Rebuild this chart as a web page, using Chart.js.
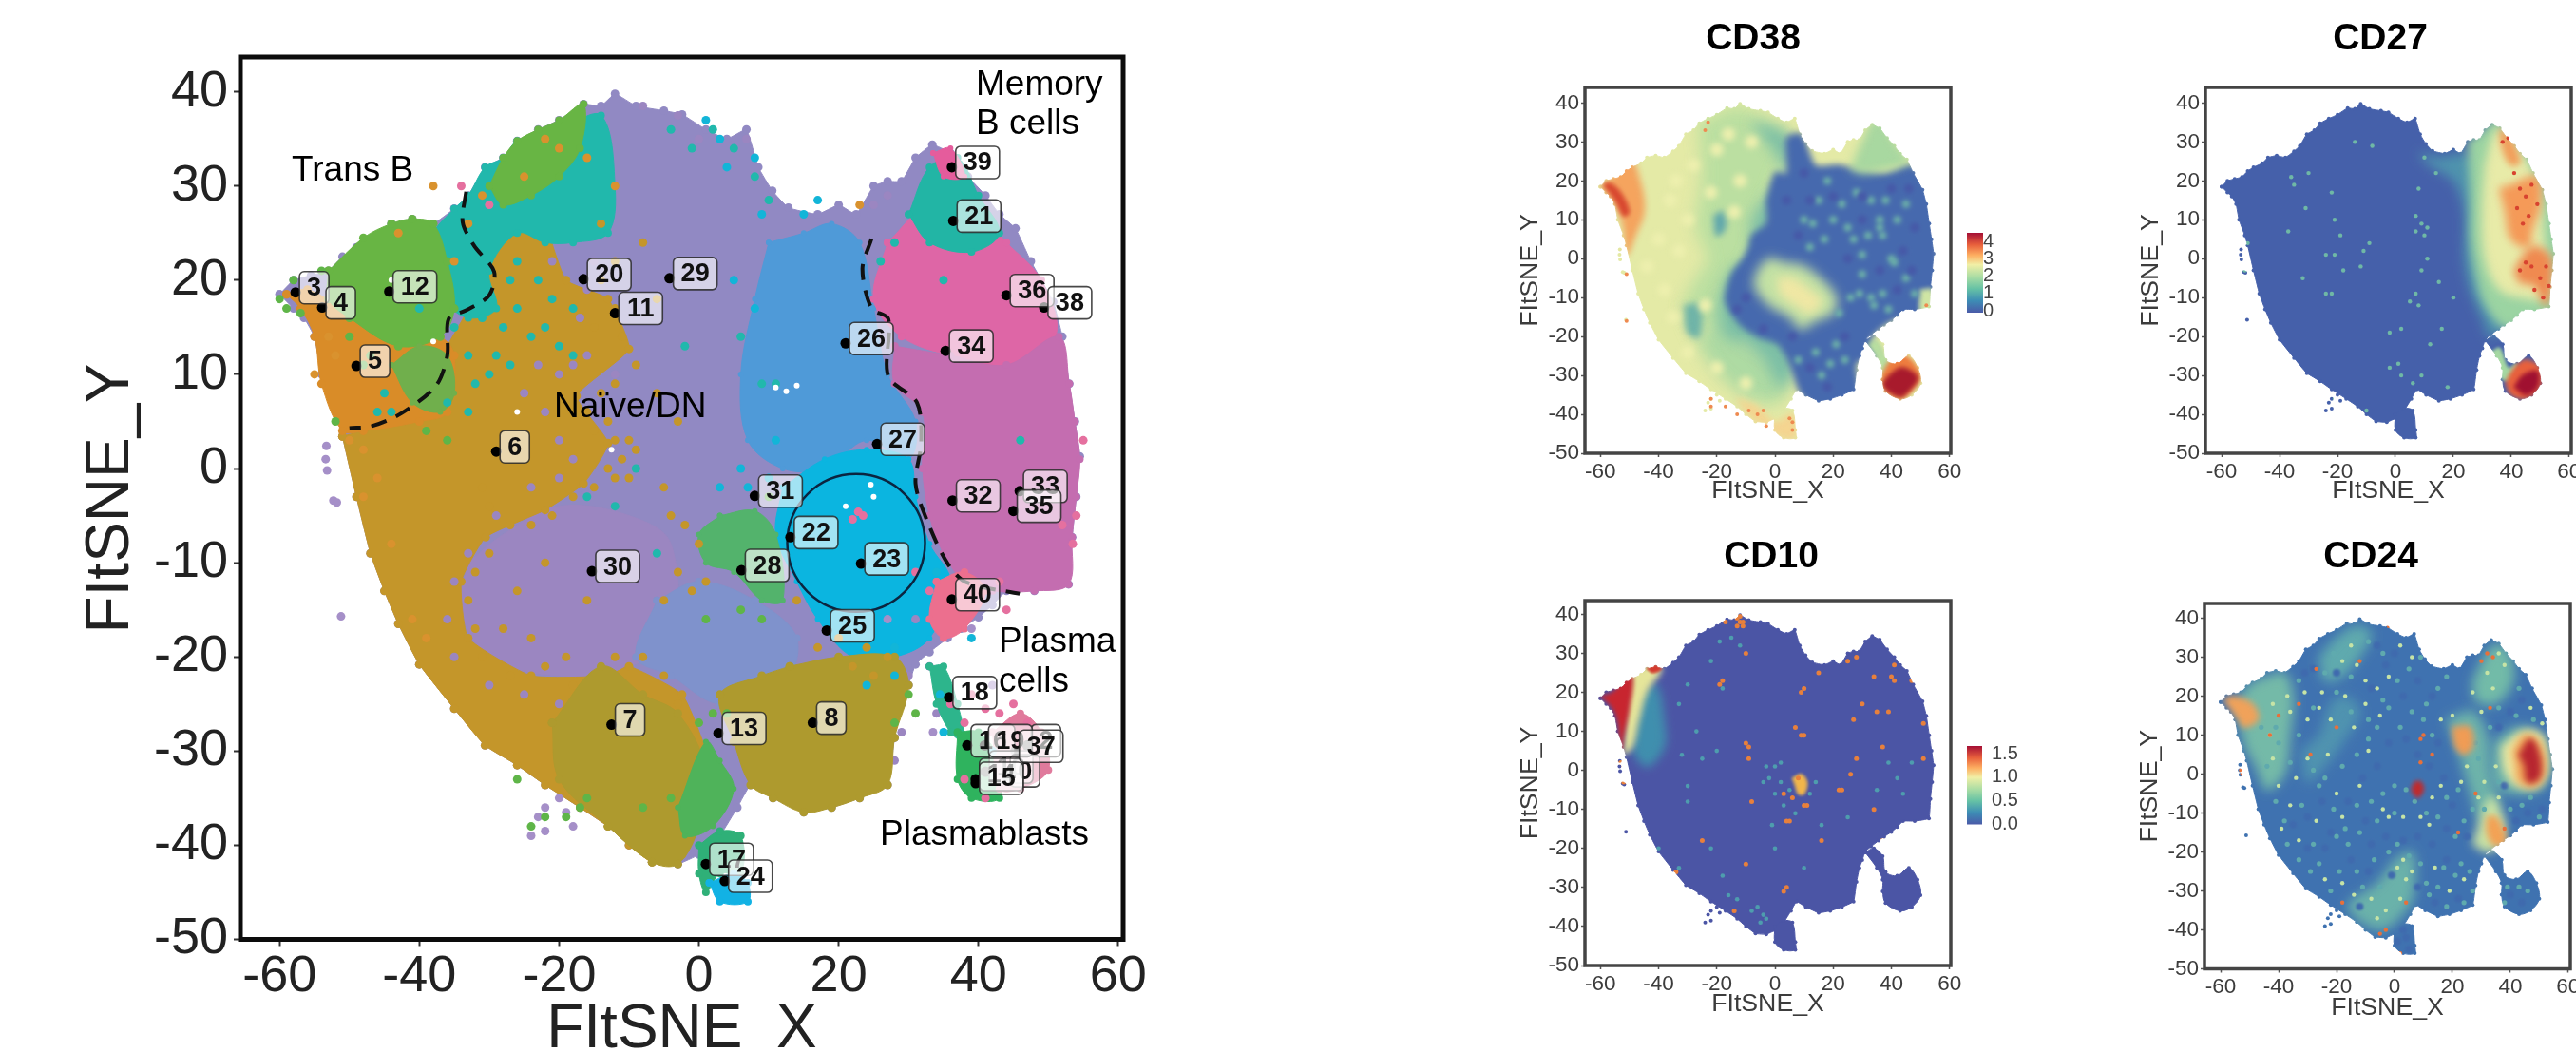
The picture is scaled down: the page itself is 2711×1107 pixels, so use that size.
<!DOCTYPE html>
<html><head><meta charset="utf-8">
<style>
html,body{margin:0;padding:0;background:#fff;width:2711px;height:1107px;overflow:hidden}
.w{position:absolute}
.w canvas{display:block}
.soft{filter:blur(.75px)}
</style>
<script src="https://cdn.jsdelivr.net/npm/chart.js@4"></script>
</head><body>
<script>
/* ---------- shared outline estimates, in FItSNE units ---------- */
const bodyOutline=[[-60,18.5],[-58,20],[-55.5,20.5],[-53,21],[-51,22.5],[-49,23.5],[-46,24.5],[-44,26],[-41,26.5],[-38,26],[-35,27.6],[-33,29],[-30.6,32],[-28,33],[-26,34.8],[-23,36],[-20,37],[-16.5,38.7],[-14,38.5],[-12,39.8],[-9,38.5],[-5,38],[-2.4,37.6],[1,36],[4,35],[6.8,36],[8.5,32],[10.5,29.5],[12.8,27.7],[17,27],[20,28],[22.5,27],[25,30],[27,30.5],[29,30.5],[31,33],[33.4,34.4],[36,33.5],[38.5,31],[41,29],[43,27],[45.3,25.5],[47.5,22],[50.7,17.7],[52,14],[53,9],[53.8,5],[54.5,1.3],[54,-3],[53.4,-7.3],[52.9,-12.3],[48,-13],[44,-13],[42,-14.5],[40,-15.8],[37.5,-17],[35.6,-18],[33,-19.5],[31,-20.8],[30,-23],[29,-25],[28,-28.6],[27,-33.6],[23,-35],[19,-36],[15,-36.5],[10.6,-35],[7.4,-33.6],[5.5,-36],[3,-39],[0,-41],[-3,-42],[-6.7,-41.8],[-10,-40],[-13,-38],[-17,-36],[-22,-33.6],[-26,-31.5],[-30.6,-29.4],[-35,-25.5],[-40,-20.8],[-43,-16.5],[-45,-13],[-47,-9],[-49,-3],[-51,3.4],[-52,6],[-54,10],[-55,14],[-56.5,16],[-58,17]];
const plasmaOutline=[[31,-21],[34,-20],[37,-22],[38,-26],[42,-27],[46,-25],[49,-28],[50,-32],[47,-35],[43,-36],[38,-34],[37,-31],[37,-28],[35,-25]];
const bottomOutline=[[0,-40],[3,-38.5],[6,-39],[7,-44],[7,-46],[3,-46],[0,-44]];
const leftCrumbs=[[-53.3,2.4],[-53.4,1],[-53.2,-.2],[-52.3,-3.4],[-51.8,-3.6],[-51.2,-15.7],[-23,-37],[-22,-36],[-20,-35],[-19,-36.5],[-22,-38.5],[-24,-39],[-18,-38],[33.5,-28],[39,-17],[42,-23],[27,-16]];

/* ---------- main panel: estimated cluster regions ---------- */
const goldRegion=[[-51,3.4],[-49,-3],[-47,-9],[-45,-13],[-43,-16.5],[-40,-20.8],[-35,-25.5],[-30.6,-29.4],[-26,-31.5],[-22,-33.6],[-17,-36],[-13,-38],[-10,-40],[-6.7,-41.8],[-2.4,-41],[1,-34],[1,-30],[-2.4,-24],[-10,-21],[-13,-22],[-24,-22],[-33,-18],[-34,-12],[-30.5,-7.3],[-22,-4.4],[-16.5,-1.6],[-13,2.7],[-17.5,7.7],[-10,12.7],[-13,18],[-19,20],[-22,26],[-24,28],[-31,24],[-33,17],[-36,13],[-40,6]];
const orangeRegion=[[-59,18.5],[-56,19],[-51,17],[-45,15],[-40,14],[-37,14],[-35,12],[-36,6],[-40,5],[-48,4],[-51,4],[-54,9],[-55,14],[-57,17]];
const greenTrans=[[-53,21],[-48,24.5],[-44,26],[-41,26.5],[-38,26],[-36,22],[-35,17],[-37,14],[-43,13],[-50,16],[-53,18]];
const greenLow=[[-44,11],[-40,13],[-36,12],[-35,8],[-37,6],[-41,7]];
const tealBelt=[[-40,20],[-38,25],[-35,27.6],[-33,29],[-30.6,32],[-28,33],[-26,34.8],[-20,36],[-14,37.5],[-12,30],[-13,25],[-18,24],[-22,24],[-26,25],[-30,21],[-29,17],[-33,16],[-37,18]];
const greenTuft=[[-30,30],[-28,33],[-26,34.8],[-23,36],[-20,37],[-16.5,38.7],[-17,34],[-20,31],[-24,29],[-28,28]];
const lowerLavender=[[-33,-10],[-28,-7],[-20,-4],[-10,-5],[-4,-8],[-4,-18],[-10,-21],[-20,-22],[-30,-20],[-34,-15]];
const blueLavender=[[-6,-14],[0,-12],[8,-14],[14,-18],[12,-23],[3,-25],[-4,-22],[-9,-20]];
const blueRegion=[[10,24],[15,25],[19,26],[23,24],[25,17],[27,10],[31,5],[30,1],[24,3],[18,0],[12,0],[7,3],[6,10],[8,18]];
const cyanRegion=[[12,-2],[18,1],[24,2],[30,1],[31,-3],[33,-8],[36,-12],[33,-18],[28,-20],[22,-20],[17,-16],[14,-12],[11,-7]];
const greenCentre=[[3,-5],[8,-4.5],[11,-7],[12,-14],[9,-14],[5,-11],[1,-10],[0,-7]];
const oliveRight=[[13,-21],[20,-20],[28,-20],[30,-23],[28,-28.6],[27,-33.6],[23,-35],[19,-36],[15,-36.5],[10.6,-35],[7.4,-33.6],[5,-29],[3,-24],[9,-22]];
const oliveLow=[[-21,-27],[-14,-21],[-8,-24],[-3,-26],[1,-32],[0,-38],[-3,-42],[-6.7,-41.8],[-13,-38],[-20,-33]];
const greenLowCentre=[[-3,-36],[1,-29],[3,-31],[5,-34],[2,-38],[-2,-39]];
const pinkRegion=[[27,24],[33,28],[40,27],[44,24],[49,20],[51,14],[44,11],[36,12],[29,14],[25,18]];
const mauveRegion=[[28,13],[36,12],[44,11],[51.5,14],[53,9],[53.8,5],[54.5,1],[54,-3],[53.4,-7.3],[52.9,-12.3],[48,-13],[42,-13],[38,-12],[35,-9],[33,-5],[32,0],[32,6],[28,9]];
const salmonRegion=[[34,-12],[38,-11],[41,-13],[38,-17],[35,-18],[33,-16]];
const tealTop=[[30,27],[33,32],[37,33],[40,29],[43,25],[39,23],[33,24]];
const pinkTop=[[33.5,33.5],[36,34],[38,31],[35,31]];
const tealBottom=[[0,-40],[3,-38.5],[6,-39],[6,-43],[3,-43],[1,-45],[0,-43]];
const cyanBottom=[[1.5,-44],[5,-43],[7,-44],[7,-46],[3,-46]];
const plasmaTail=[[33,-21],[35,-21],[37,-25],[38,-29],[36,-28],[34,-25]];
const plasmaGreen=[[37,-28],[40,-28],[43,-31],[43,-35],[39,-35],[37,-33]];
const plasmaRose=[[42,-28],[46,-26],[49,-28],[50,-32],[46,-34],[43,-34]];

/* stray dots read around the edges and inside the regions */
const tealDots=[[-40,17],[-35,15],[-33,12],[-31,16],[-28,15],[-26,17],[-24,14],[-22,15],[-20,13],[-29,12],[-32,9],[-30,10],[-27,11],[-33,6],[-36,7],[-45,8],[-46,6],[-44,6],[-1,34],[2,36],[5,34],[8,31],[10,28.5],[-4,36],[-27,20],[-26,22],[-23,20],[-21,18],[-18,17],[28,24],[26,22],[35,20],[6,14],[9,9],[11,9],[-6,-9],[-12,-4],[-9,0],[-18,12],[46,3],[-16,-3],[-2,13]];
const lavenderDots=[[-8,38.5],[-3,37.5],[6.8,35],[0,35],[25,28],[27,29],[-24,12],[-22,9],[-26,8],[-27,5],[-30,3],[-31,4],[-20,6],[-24,3],[-19,2],[-30,-6],[-27,-6],[-24,-3],[-20,-2],[-34,-14],[-35,-20],[-14,2],[-14,6],[-12,10],[-15,12],[31,-16],[33,-21],[30,-22],[34,-26],[26,-33],[28,-31],[29,-28]];
const lavenderEdge=[[-16,12],[-18,11],[-20,10],[-23,11],[-25,8],[-22,6],[-20,3],[-18,1],[-20,-1],[-24,-2],[-29,-5],[-33,-9],[-35,-12],[-36,-16],[-35,-20],[-30,-23],[-25,-24],[-20,-25],[-14,-24],[-17,16],[-16,19],[-21,22],[-19,25],[-15,22]];
const goldDots=[[-11,1],[-10,3],[-12,-1],[-10,-1],[-9,2],[-13,5],[-4,-5],[-2,-6],[0,-8],[-3,-11],[-1,-13],[1,-12],[-5,-14],[-16,-14],[-22,-10],[-26,-13],[-24,-18],[-19,-20],[-28,-17],[-5,-2],[-8,24],[-6,18],[-12,22],[-14,26],[-3,5],[-6,8],[20,-18],[14,-14],[17,-19],[25,-22],[22,-21],[-31,-2],[-30,-4],[27,-20],[24,-19]];
const goldEdge=[[-14,20],[-12,17],[-15,15],[-11,14],[-9,11],[-12,9],[-14,8],[-16,6],[-19,7],[-15,4],[-12,3],[-13,0],[-15,-2],[-18,-3],[-21,-5],[-24,-6],[-27,-6],[-30,-9],[-32,-11],[-33,-14],[-32,-17],[-31,-20],[-27,-22],[-22,-21],[-18,-23],[-12,-20],[-8,-20],[-5,-22],[-3,-25],[-1,-27]];
const cyanDots=[[3,35],[1,37],[8,33],[4,32],[9,27],[10,-1],[11,3],[7,-2],[34,-11],[28,-22],[24,-23],[28,-19],[39,-18],[35,-28],[34.5,-24],[42,-30],[8,17],[5,20],[15,27],[17,28.5],[3,-2],[6,0]];
const greenDots=[[-58,20],[-60,18],[-59,17],[-57,16.5],[-54,21],[-50,14],[-48,11],[-39,4],[-52,5],[-47,12],[-36,3],[1,-16],[6,-15],[9,-16],[10,-3],[0,-27],[2,-26],[-4,-35],[-24,-38],[-22,-37],[-19,-37],[-17,-36],[-8,-36],[4,-26],[30,-24],[28,-27],[31,-26],[-26,-33],[-16,-35]];
const orangeDots=[[-38,30],[-43,25],[-31,29],[-35,22],[-33,26],[-12,30],[-52,12],[-53,14],[-55,10],[-46,-1],[-48,2],[-50,3],[-22,35],[-25,31],[-20,34],[-16,33],[23,28],[-48,-3],[-44,-8],[-41,-16],[-39,-18]];
const pinkDots=[[36,-25],[39,-24],[41,-25.5],[43,-26],[45,-25],[38,-27],[47,-27],[49,-29],[-34,30],[-30,28],[33,-13],[31,-11],[40,-14],[44,-15],[43,-12],[22.8,-4.6],[23.5,-5],[22,-5.4],[41,-35],[38,-33],[52,-6],[55,3],[54,-5],[53.5,-8]];
const whiteHoles=[[11,8.6],[12.5,8.2],[14,8.8],[21,-4],[25,-3],[24.6,-1.7],[-12.5,2],[-38,13.5],[-26,6],[-44,20]];

/* main panel cluster labels */
const clusterIds=["16","2","10","0","14","3","4","5","6","7","8","11","12","13","18","17","24","20","21","22","23","25","26","27","28","29","30","31","33","32","34","35","36","38","39","40","19","37","15"];
const clusterX=[38.4,47,41,44,39.6,-57.7,-53.9,-49,-29,-12.5,16.3,-12,-44.3,2.8,35.8,1,3.7,-16.5,36.4,13.1,23.2,18.3,21,25.5,6.1,-4.2,-15.3,8,45.9,36.3,35.3,45,44,49.4,36.2,36.2,40.9,45.3,39.6];
const clusterY=[-29.4,-29.4,-32.2,-32.6,-33,18.7,17.1,10.9,1.8,-27.2,-27,16.5,18.8,-28.1,-24.3,-42,-43.8,20.1,26.3,-7.3,-10.1,-17.2,13.3,2.6,-10.8,20.2,-10.9,-2.9,-2.4,-3.4,12.5,-4.5,18.4,17.1,32,-13.9,-29.4,-30,-33.4];
const dashLeft=[[-33.3,29.4],[-33.8,26.2],[-32.2,23.7],[-29.3,20.9],[-30,18.4],[-33.3,16.8],[-35.8,15.9],[-36,12],[-37.6,8.8],[-42.5,5.9],[-46.8,4.5],[-50,4.3]];
const dashRight=[[24.7,24.4],[23.4,21.2],[24.7,17],[27.1,15.9],[27.1,9.8],[31.2,7],[31.8,2.7],[31,-1.6],[32.8,-5.8],[35.6,-10.1],[38.3,-12.1],[45.9,-13.3]];
const ringCentre=[[22.5,-7.9]];
const xTicks=[-60,-40,-20,0,20,40,60];
const yTicks=[40,30,20,10,0,-10,-20,-30,-40,-50];

/* ---------- CD38 estimated expression regions ---------- */
const cd38Green=[[-26,35],[-13,39],[-3,36],[4,32],[0,20],[-5,10],[-8,2],[-13,-5],[-17,-14],[-25,-18],[-31,-12],[-27,-5],[-23,0],[-27,8],[-25,20]];
const cd38GreenLow=[[-32,-12],[-25,-20],[-18,-10],[-12,-20],[-3,-24],[2,-28],[4,-34],[0,-37],[-8,-36],[-16,-32],[-24,-25]];
const cd38Teal=[[-8,35],[-2,34],[5,31],[3,20],[-3,16],[-8,10],[-9,1],[-16,-4],[-19,-13],[-17,-20],[-10,-22],[-4,-26],[2,-33],[6,-30],[6,-22],[0,-15],[-4,-6],[-1,4],[0,14],[2,24]];
const cd38TealSpots=[[-21,11],[-18,12],[-17,8],[-20,6]];
const cd38TealSpots2=[[-31,-12],[-26,-12],[-26,-20],[-30,-19]];
const cd38Blue=[[-3,15],[0,22],[4,22],[4,31],[9,32],[14,24],[22,24],[28,23],[38,22],[47,24],[54,16],[56,5],[56,-3],[55,-14],[44,-15],[38,-17],[33,-21],[36,-25],[28,-27],[29,-37],[14,-38],[9,-35],[5,-27],[1,-22],[-6,-20],[-12,-17],[-17,-11],[-15,-4],[-11,0],[-9,3],[-8,6],[-3,9]];
const cd38Patch=[[-6,-3],[-2,0],[3,-1],[10,-2],[17,-6],[21,-10],[20,-14],[14,-16],[9,-18],[5,-15],[-2,-12],[-7,-7]];
const cd38Core=[[1,-5],[6,-5],[12,-8],[16,-11],[12,-14],[7,-12],[2,-9]];
const cd38TopRight=[[26,23],[30,30],[34,36],[37,35],[42,29],[46,25],[38,23],[30,22]];
const cd38LowRight=[[50,-8],[54,-8],[54,-14],[50,-14]];
const cd38Orange=[[-60,18.5],[-56,21],[-50,26],[-46,19],[-45,12],[-48,6],[-51,1],[-52,8],[-55,14]];
const cd38Red=[[-59,19],[-57,19.5],[-53,17],[-50,12],[-52,11],[-55,15]];
const cd38Bottom=[[-13,-36],[-6,-38],[0,-42],[6,-40],[7,-46],[2,-46],[-3,-43],[-8,-41]];
const cd38Plasma=[[36.5,-30],[40,-26],[45,-25],[50,-30],[47,-34],[43,-36],[38,-34]];
const cd38PlasmaCore=[[37,-32],[40,-29.5],[44,-28],[49,-30.5],[46,-34],[43,-35.5],[38,-33.5]];
const cd38PlasmaTail=[[32,-22],[35,-21],[38,-25],[40,-27],[37,-30],[36,-27]];
const cd38GreenSpots=[[36,8],[36,10],[37,6],[40,0],[41,-1],[33,-10],[34,-12],[37,-9],[30,1],[27,5],[25,8],[20,10],[12,3],[10,10],[15,15],[22,-14],[26,-10],[30,-4],[42,10],[45,-5],[14,-24],[24,-26],[8,-26],[18,20],[33,15],[38,15],[28,17],[23,14],[13,9],[17,5],[29,-9],[39,-13],[48,-9],[45,14],[32,6],[21,-22],[16,-30],[19,-27]];
const cd38DarkMottle=[[30,16],[40,18],[46,18],[48,8],[44,2],[30,10],[25,0],[36,-3],[47,-3],[42,-8],[12,15],[8,6],[4,15],[10,22],[20,16],[24,-20],[12,-28],[18,-33],[6,-20],[-4,-18],[-10,-10],[-13,-13]];
const cd38PaleMottle=[[-40,5],[-36,15],[-33,2],[-38,-8],[-30,10],[-28,24],[-20,28],[-35,-15],[-30,-24],[-24,-12],[-20,-28],[-10,-32],[-44,-2],[-34,20],[-22,17],[-16,32],[-8,30],[-14,12],[-12,20]];
const cd38Warm=[[-22,-36],[-22,-38],[-17,-38],[-13,-40],[-9,-39],[-6,-40],[-4,-39],[-3,-43],[5,-41],[6,-42],[6,-44],[-24,33],[-23,35],[-51,-4],[-51,-16],[52,-12]];

/* ---------- CD27 ---------- */
const cd27Teal=[[8,27],[16,26],[24,27],[30,24],[32,10],[31,-2],[36,-12],[40,-15],[33,-20],[30,-15],[26,-8],[24,0],[24,12],[20,20],[12,24]];
const cd27Green=[[25,30],[30,33],[35,36],[41,31],[48,25],[54,15],[57,2],[55,-14],[45,-16],[38,-18],[31,-12],[28,-5],[26,5],[26,15]];
const cd27Pale=[[31,24],[35,33],[40,30],[46,24],[50,15],[51,6],[52,-3],[52,-10],[44,-10],[36,-8],[31,0],[30,12]];
const cd27Warm=[[36,18],[40,19],[49,21],[50,14],[47,7],[46,3],[40,5],[38,12]];
const cd27Warm2=[[41,-3],[47,3],[53,1],[54,-5],[52,-12],[48,-7],[43,-6]];
const cd27Warm3=[[36,33],[39,32],[43,25],[40,24],[37,28]];
const cd27Tail=[[33,-24],[36,-23],[39,-28],[42,-27],[41,-31],[37,-31],[35,-27]];
const cd27Plasma=[[38,-32],[41,-28],[45,-26],[50,-28],[50,-33],[45,-36],[40,-35]];
const cd27Hot=[[41,-33],[44,-30],[49,-29],[49,-33],[45,-35]];
const cd27Specks=[[-35,19],[-31,13],[-37,7],[-22,17],[-21,10],[-32,-5],[-24,-9],[-22,-9],[-19,6],[-21,1],[-24,1],[-11,2],[-9,4],[8,18],[7,11],[9,9],[11,8],[7,7],[10,6],[11,0],[9,-3],[7,-9],[8,-12],[5,-11],[-2,-19],[2,-18],[-2,-28],[1,-27],[2,-30],[6,-32],[9,-30],[12,-22],[16,-18],[20,-10],[15,-6],[-14,30],[-8,29],[-12,-2],[-18,-3],[-30,22],[-36,21],[-51,4],[-52,-3],[-24,-38],[-21,-36],[-10,-39],[18,-33],[10,26],[14,22]];
const cd27HotDots=[[37,30],[39,31],[41,22],[43,18],[45,16],[47,19],[42,13],[44,9],[46,11],[49,14],[47,-2],[50,-5],[52,-2],[48,-8],[51,-10],[53,-7],[45,-1],[43,-3]];

/* ---------- CD10 ---------- */
const cd10Yellow=[[-52,4],[-50,24],[-44,27],[-39,26],[-44,20],[-47,12],[-49,6]];
const cd10Teal=[[-47,20],[-41,22],[-38,12],[-38,6],[-44,1],[-49,6]];
const cd10Red=[[-60,19],[-56,20],[-52,23],[-49,24],[-50,16],[-52,9],[-53,5],[-54,12],[-56,16]];
const cd10RedTop=[[-44,26],[-41,27],[-39,26],[-42,25]];
const cd10Spot=[[6,-2],[9,-1],[11,-3],[10,-6],[8,-6],[7,-4]];
const cd10Hot=[[-12,38],[-13,39],[-12,39.5],[-11,38],[-11,37],[-13,37],[-17,38],[-19,22],[-18,23],[-10,30],[10,21],[9,20],[7,11],[9,9],[10,9],[-10,7],[-9,6],[-9,3],[8,-2],[6,-7],[3,-6],[10,-9],[11,-9],[-8,-8],[5,-13],[4,-13],[23,-5],[22,-5],[34,-10],[26,-1],[28,3],[37,6],[41,23],[40,24],[34,24],[35,15],[39,15],[28,29],[25,28],[15,25],[51,12],[51,3],[37,-18],[16,-18],[-25,-18],[-10,-24],[4,-30],[3,-31],[-14,-36],[-53,2],[-52,1],[-52,-3],[-35,-27],[-34,-26],[41,27],[47,23],[30,17],[27,13],[-34,37]];
const cd10Cool=[[-3,1],[-2,-2],[0,1],[-4,-3],[2,2],[2,-3],[5,-5],[0,-6],[3,-9],[7,-11],[-1,-14],[12,-6],[14,-3],[-22,-20],[-18,-27],[-16,-32],[-13,-33],[-8,-36],[-5,-39],[-3,-38],[-6,-35],[-4,-37],[-18,21],[-30,22],[-33,17],[-12,32],[-15,34],[-19,33],[-22,28],[-27,10],[-32,4],[-30,-8],[-30,-4],[-40,-20],[-33,-25],[-20,5],[-25,3],[0,-20],[10,-25],[16,-14],[25,-12],[35,-5],[44,-6],[39,2],[47,2],[42,-2]];

/* ---------- CD24 ---------- */
const cd24TealA=[[-54,19],[-50,23],[-44,25],[-38,26],[-35,20],[-36,10],[-38,0],[-44,-4],[-48,2],[-52,8]];
const cd24TealB=[[-26,30],[-20,35],[-13,38],[-8,36],[-12,30],[-18,25],[-24,24]];
const cd24TealC=[[-32,6],[-26,10],[-22,18],[-17,20],[-12,16],[-18,8],[-24,2],[-30,-2]];
const cd24TealD=[[27,24],[34,33],[39,32],[41,24],[35,18],[28,19]];
const cd24TealE=[[18,14],[27,16],[32,10],[33,0],[36,-8],[30,-12],[26,-4],[22,6]];
const cd24TealF=[[34,8],[42,12],[50,10],[54,2],[50,-4],[40,-5],[34,-2]];
const cd24TealG=[[0,-22],[6,-20],[7,-28],[5,-34],[-5,-40],[-16,-34],[-6,-28]];
const cd24TealH=[[27,-18],[33,-6],[38,-12],[37,-18],[32,-20]];
const cd24Orange1=[[-59,19],[-56,20],[-49,18],[-47,14],[-52,12],[-54,14]];
const cd24Orange2=[[20,12],[26,12],[27,7],[24,5],[21,7]];
const cd24Orange3=[[32,-11],[35,-11],[38,-15],[38,-18],[34,-18],[32,-15]];
const cd24Pale=[[37,7],[44,11],[51,10],[53,2],[50,-3],[42,-3],[38,1]];
const cd24Warm=[[41,6],[45,10],[50,8],[52,1],[49,-3],[43,-2],[42,2]];
const cd24Red=[[43,5],[47,9],[50,5],[50,-1],[46,-2],[45,2]];
const cd24RedSpot=[[7,-2],[9,-2],[10,-4],[8,-6],[6,-4]];
const cd24SpecksPale=[[-42,18],[-43,10],[-36,16],[-37,20],[-31,21],[-30,14],[-25,21],[-26,17],[-22,14],[-15,33],[-18,29],[-13,28],[-10,24],[-17,20],[-10,18],[-5,15],[-14,12],[-23,5],[-30,4],[-34,-1],[-40,-3],[-42,4],[-20,-5],[-12,-3],[-18,-11],[-24,-27],[-18,-28],[-14,-31],[-8,-32],[-6,-37],[-3,-35],[1,-24],[3,-22],[4,-27],[2,-32],[6,-25],[-2,-11],[3,-11],[-4,-9],[9,-11],[12,-13],[13,-6],[16,-3],[16,14],[20,15],[30,16],[27,21],[32,26],[36,31],[38,28],[34,22],[25,2],[23,-2],[29,-6],[31,-2],[36,-6],[35,2],[47,17],[51,13],[14,-24],[19,-30],[24,-27],[-39,-14],[-36,-8],[-33,-17],[-27,-12],[-9,6],[-6,22],[-2,25],[2,33],[6,30]];
const cd24SpecksDark=[[-33,32],[-30,-11],[-25,-7],[-22,-15],[-16,-7],[-10,-12],[-8,-18],[-3,-16],[3,-17],[8,-16],[13,-18],[18,-14],[20,-8],[17,-1],[12,2],[8,5],[4,9],[-2,8],[-6,2],[-11,-1],[-3,28],[-8,22],[3,20],[8,24],[13,20],[15,8],[18,-22],[25,-16],[22,-32],[14,-33],[8,-29],[-9,-25],[-15,-22],[-24,-19],[-30,-19],[-35,-13],[44,19],[40,16],[36,12],[46,-10],[51,-9],[42,-12],[38,-3],[-20,26],[-28,27],[-31,26],[-6,33],[0,31],[-1,-26],[-12,-34],[40,-31],[44,-33],[1,-43],[4,-42],[5,-45],[3,-40]];
const cd24SpecksMid=[[-46,12],[-44,2],[-41,-7],[-38,-12],[-37,-18],[-33,-22],[-29,-25],[-26,-23],[-22,-30],[-19,-25],[-16,-18],[-13,-25],[-11,-29],[-7,-22],[-5,-29],[-2,-20],[1,-18],[5,-21],[9,-23],[11,-28],[15,-29],[17,-24],[21,-26],[23,-23],[26,-25],[27,-30],[24,-33],[18,-34],[12,-31],[21,-16],[24,-12],[27,-9],[22,-4],[18,-6],[15,-11],[11,-10],[7,-7],[4,-4],[0,-3],[-4,-5],[-8,-7],[-13,-8],[-17,-14],[-21,-9],[-26,-3],[-32,-8],[-36,3],[-40,8],[-33,10],[-28,1],[-24,-1],[-18,2],[-13,5],[-9,9],[-6,12],[-2,17],[2,12],[6,16],[10,14],[13,10],[11,18],[15,22],[18,25],[5,27],[1,24],[-4,19],[-9,14],[-15,16],[-20,21],[-24,26],[-28,17],[-33,24],[-41,12],[-9,34],[-4,31],[9,30],[-21,31],[-15,25],[36,17],[42,15],[48,14],[43,22],[33,12],[29,4],[31,-9],[40,-9],[47,-6],[50,-11],[44,-8],[36,-2],[28,8],[-28,-18],[-20,-16],[-12,-15],[-6,-12],[0,-10],[39,-29],[46,-30],[43,-29],[38,-33]];
const cd24SpecksHot=[[-43,10],[-29,5],[-27,27],[-33,18],[-40,15],[10,10],[9,9],[-12,29],[-20,12],[19,31],[30,29],[32,31],[34,30],[23,29],[-3,-40],[-5,-41],[2,-46],[4,-33],[7,-38],[-53,1],[-52.5,0],[33,17],[28,-5],[22,-15],[13,5],[9,3],[38,-14],[-2,38],[-18,-33]];

const cb38=[["4",1],["3",.75],["2",.5],["1",.25],["0",0]];
const cb10=[["1.5",1],["1.0",.667],["0.5",.333],["0.0",0]];

const FF='"Liberation Sans",Arial,sans-serif';
const spectral=[[0,'#4A5AA8'],[.15,'#3D8DB5'],[.3,'#66C2A5'],[.45,'#ABDDA4'],[.6,'#F1EFA6'],[.72,'#FDAE61'],[.85,'#E8603C'],[1,'#A50F35']];

function poly(p,c,r,t){return {data:p.concat([p[0]]),showLine:true,fill:'shape',backgroundColor:c,borderColor:c,borderWidth:1,pointRadius:r||0,pointBackgroundColor:c,pointBorderWidth:0,tension:t===undefined?.35:t};}
function dots(p,c,r){return {data:p,showLine:false,backgroundColor:c,borderWidth:0,pointRadius:r,pointBackgroundColor:c,pointBorderWidth:0};}
function dash(p){return {data:p,showLine:true,fill:false,borderColor:'#111',borderWidth:4,borderDash:[17,11],pointRadius:0,tension:.3};}
/* later layers paint only over the silhouette, softened by b pixels */
function soft(layer,b){layer.atop=true;layer.blurPx=b||0;return layer;}

function extras(o,L){return {id:'extras'+o.id,
 afterLayout(ch){
  const t=ch.titleBlock;
  if(o.title&&t){const hw=(t.right-t.left)/2;t.left=o.titleX-L-hw;t.right=o.titleX-L+hw;}
 },
 afterDatasetDraw(ch,args){
  const next=ch.data.datasets[args.index+1],g=ch.ctx;
  if(next&&next.atop){g.globalCompositeOperation='source-atop';g.filter=next.blurPx?`blur(${next.blurPx}px)`:'none';}
  else{g.globalCompositeOperation='source-over';g.filter='none';}
 },
 afterDatasetsDraw(ch){
  const g=ch.ctx,a=ch.chartArea;
  g.globalCompositeOperation='source-over';g.filter='none';
  g.save();g.strokeStyle=o.frame;g.lineWidth=o.frameW;g.strokeRect(a.left,a.top,a.right-a.left,a.bottom-a.top);
  if(o.after)o.after(g,ch);
  g.restore();
 }};}

function make(o){
 const wrap=document.createElement('div');wrap.className='w'+(o.soft?' soft':'');
 const [L,T,R,B]=o.box,[pl,pt,pr,pb]=o.plot;
 wrap.style.cssText=`left:${L}px;top:${T}px;width:${R-L}px;height:${B-T}px`;
 const c=document.createElement('canvas');c.width=R-L;c.height=B-T;wrap.appendChild(c);document.body.appendChild(wrap);
 const ds=o.layers.map((d,i,arr)=>Object.assign(d,{order:arr.length-i}));
 const zero=s=>{s.paddingTop=s.paddingBottom=s.paddingLeft=s.paddingRight=0;};
 const ax=(vals,min,max,extra)=>Object.assign({type:'linear',min,max,
   afterBuildTicks(s){s.ticks=vals.map(v=>({value:v}));},
   grid:{display:true,drawOnChartArea:false,drawTicks:true,tickLength:o.tickLen,tickWidth:o.tickW,tickColor:o.tickColor,color:o.tickColor},
   border:{display:false}},extra);
 new Chart(c,{type:'scatter',data:{datasets:ds},options:{
  responsive:false,animation:false,
  layout:{autoPadding:false,padding:{top:o.title?0:pt-T,right:R-pr,left:0,bottom:0}},
  plugins:{legend:{display:false},tooltip:{enabled:false},
    title:o.title?{display:true,text:o.title,color:'#000',font:{family:FF,size:39,weight:'bold',lineHeight:1},padding:{top:o.titleY-T-19.5,bottom:pt-T-(o.titleY-T-19.5)-39}}:{display:false}},
  scales:{
   x:ax(xTicks,o.xr[0],o.xr[1],{afterFit(s){s.height=B-pb;zero(s);},
     ticks:{font:{family:FF,size:o.tickFont},color:o.labelColor,padding:o.xPad,maxRotation:0,autoSkip:false,callback:v=>String(v)},
     title:{display:true,text:'FItSNE_X',color:o.labelColor,font:{family:FF,size:o.axisFont,lineHeight:1},padding:{top:0,bottom:B-o.xTitleY-o.axisFont/2}}}),
   y:ax(yTicks,o.yr[0],o.yr[1],{afterFit(s){s.width=pl-L;zero(s);},
     ticks:{font:{family:FF,size:o.tickFont},color:o.labelColor,padding:o.yPad,autoSkip:false,callback:v=>String(v)},
     title:{display:true,text:'FItSNE_Y',color:o.labelColor,font:{family:FF,size:o.axisFont,lineHeight:1},padding:{top:o.yTitleX-L-o.axisFont/2,bottom:0}}})
  }},plugins:[extras(o,L)]});
}

function rr(g,x,y,w,h,r){g.beginPath();g.roundRect(x,y,w,h,r);}

function drawClusterLabels(g,ch){
 const X=ch.scales.x,Y=ch.scales.y;
 g.textAlign='center';g.textBaseline='middle';
 clusterIds.forEach((id,i)=>{
  const px=X.getPixelForValue(clusterX[i]),py=Y.getPixelForValue(clusterY[i]);
  const w=id.length>1?46:31,h=34,x=px+4,y=py-5-h/2;
  rr(g,x,y,w,h,5);g.fillStyle='rgba(255,255,255,.62)';g.fill();
  g.lineWidth=1.6;g.strokeStyle='rgba(40,40,40,.85)';g.stroke();
  g.fillStyle='#111';g.font='bold 27px '+FF;g.fillText(id,x+w/2,y+h/2+1);
 });
 g.fillStyle='#000';g.font='37px '+FF;g.textAlign='left';
 const notes=[["Memory",1027,90],["B cells",1027,131],["Trans B",307,180],["Naïve/DN",583,429],["Plasma",1051,676],["cells",1051,718],["Plasmablasts",926,879]];
 notes.forEach(n=>g.fillText(n[0],n[1],n[2]));
}

function colorbar(spec){return (g,ch)=>{
 const [x,y,w,h,lx]=spec.rect;
 const gr=g.createLinearGradient(0,y+h,0,y);spectral.forEach(s=>gr.addColorStop(s[0],s[1]));
 g.fillStyle=gr;g.fillRect(x,y,w,h);
 g.fillStyle='#444';g.font='20px '+FF;g.textAlign=spec.align;g.textBaseline='middle';
 spec.labels.forEach(l=>g.fillText(l[0],lx,spec.y0+(spec.y1-spec.y0)*l[1]));
};}

/* main chart */
const violet='#9189C3';
make({id:'main',box:[0,0,1250,1107],plot:[253,60,1182,988.5],xr:[-65.6,60.7],yr:[-50,43.7],
 frame:'#0c0c0c',frameW:5,tickLen:7,tickW:2,tickColor:'#333',labelColor:'#222',tickFont:54,axisFont:64,xPad:0,yPad:6,xTitleY:1084,yTitleX:117,
 after:drawClusterLabels,
 layers:[
  poly(bodyOutline,violet,4.5,.1),
  poly(lowerLavender,'#9B86C1',0),
  poly(blueLavender,'#7F92CC',4),
  poly(blueRegion,'#4F9AD8',3),
  poly(cyanRegion,'#0BB5E0',3),
  dots(lavenderDots,'#9B86C1',4.5),
  poly(greenCentre,'#53B36C',3),
  poly(goldRegion,'#C4962A',4.5,.15),
  dots(lavenderEdge,'#9B86C1',4.5),
  poly(orangeRegion,'#D98C28',4.5),
  poly(tealBelt,'#21B8AC',4),
  poly(greenTrans,'#68B544',4.5),
  poly(greenLow,'#70AF4C',3),
  poly(greenTuft,'#68B544',4),
  poly(oliveRight,'#AE9A2E',4.5),
  poly(oliveLow,'#AE9A2E',4.5),
  poly(greenLowCentre,'#4FB35A',3),
  poly(pinkRegion,'#DE66A6',4),
  poly(mauveRegion,'#C46DB0',4),
  poly(salmonRegion,'#EC6F8E',4),
  poly(tealTop,'#22B5A5',4),
  poly(pinkTop,'#E55C9C',3),
  poly(tealBottom,'#2FB078',4),
  poly(cyanBottom,'#12B2E4',4),
  poly(plasmaTail,'#2DB58C',4),
  poly(plasmaGreen,'#2FB35E',4),
  poly(plasmaRose,'#E07A9C',4),
  dots(leftCrumbs,'#A58FC8',4.5),
  dots(tealDots,'#21B8AC',4.5),
  dots(goldDots,'#C4962A',4.5),
  dots(goldEdge,'#C4962A',4.5),
  dots(cyanDots,'#12B5D8',4.5),
  dots(greenDots,'#5FB548',4.5),
  dots(orangeDots,'#D9922E',4.5),
  dots(pinkDots,'#E5709F',4.5),
  dots(whiteHoles,'#ffffff',3),
  dash(dashLeft),dash(dashRight),
  {data:ringCentre,showLine:false,pointRadius:72.5,pointBackgroundColor:'rgba(0,0,0,0)',pointBorderColor:'#0b2540',pointBorderWidth:2.5},
  dots(clusterX.map((x,i)=>[x,clusterY[i]]),'#000',5.5)
 ]});

const panel=(extra)=>Object.assign({soft:true,frame:'#444',frameW:3.5,tickLen:4,tickW:1.5,tickColor:'#555',labelColor:'#3c3c3c',tickFont:22.5,axisFont:26.7,xPad:2,yPad:2},extra);
const silhouette=(c,r)=>[poly(bodyOutline,c,r,.1),poly(plasmaOutline,c,r),poly(bottomOutline,c,r),dots(leftCrumbs.slice(0,12),c,r)];

make(panel({id:'cd38',title:'CD38',titleX:1845,titleY:41,box:[1570,0,2118,540],plot:[1668,92,2053,477],xr:[-65.3,60.4],yr:[-50,44],xTitleY:517,yTitleX:1611,
 after:colorbar({rect:[500,245,17,84,517],labels:cb38,y0:327,y1:254,align:'left'}),
 layers:[...silhouette('#E4EAA6',2),
  soft(poly(cd38Green,'rgba(180,222,160,.85)',0),8),soft(poly(cd38GreenLow,'rgba(165,216,162,.85)',0),8),
  soft(poly(cd38Teal,'#7CC0A6',0),7),soft(poly(cd38TealSpots,'#5FA7AC',0),3),soft(poly(cd38TealSpots2,'#6FB4A8',0),3),
  soft(dots(cd38PaleMottle,'#EEF0AE',7),3),
  soft(poly(cd38Blue,'#4669AE',0,.25),3),
  soft(poly(cd38TopRight,'#A8D8A0',0),5),soft(poly(cd38LowRight,'#CFE5A4',0),2),
  soft(poly(cd38Patch,'#C4E2A4',0),6),soft(poly(cd38Core,'#F0E8A4',0),5),
  soft(poly(cd38Orange,'#F5A45E',0),3),soft(poly(cd38Red,'#D9482F',0),2),
  soft(poly(cd38Bottom,'#F5D590',0),3),
  soft(poly(cd38PlasmaTail,'#B8DFA0',0),2),soft(poly(cd38Plasma,'#EE7C3E',0),2),soft(poly(cd38PlasmaCore,'#A81A2C',0),2),
  soft(dots(cd38GreenSpots,'#6FB6A8',4),2.5),soft(dots(cd38DarkMottle,'#4659A8',5),2),dots(cd38Warm,'#EE8A50',2)
 ]}));

make(panel({id:'cd27',title:'CD27',titleX:2505,titleY:41,box:[2230,0,2782,540],plot:[2321,92,2706,477],xr:[-65.6,60.7],yr:[-50,44],xTitleY:517,yTitleX:2264,
 layers:[...silhouette('#4560AA',2),
  soft(poly(cd27Teal,'#4E93AE',0),6),soft(poly(cd27Green,'#9BD4A2',0),5),soft(poly(cd27Pale,'#E8EBA8',0),5),
  soft(poly(cd27Warm,'#F59A58',0),4),soft(poly(cd27Warm2,'#F08A50',0),4),soft(poly(cd27Warm3,'#F2A05C',0),3),
  soft(poly(cd27Tail,'#A5D8A2',0),1.5),soft(poly(cd27Plasma,'#E8603C',0),2),soft(poly(cd27Hot,'#A01030',0),2),
  soft(dots(cd27Specks,'#6FB8A6',2.2),.5),soft(dots(cd27HotDots,'#D8432F',2.2),.5)
 ]}));

make(panel({id:'cd10',title:'CD10',titleX:1864,titleY:586,box:[1570,540,2158,1100],plot:[1668,632,2053,1016],xr:[-65.3,60.4],yr:[-50,43.5],xTitleY:1057,yTitleX:1611,
 after:colorbar({rect:[500,245,16,82.5,526],labels:cb10,y0:327.5,y1:253,align:'left'}),
 layers:[...silhouette('#4B55A5',2),
  soft(poly(cd10Teal,'#3F8FAE',0),5),soft(poly(cd10Yellow,'#E5E59A',0),3),soft(poly(cd10Red,'#C8252F',0),2),soft(poly(cd10RedTop,'#D43A2E',0),1),
  soft(dots(cd10Cool,'#4E9DAE',2.3),.5),soft(poly(cd10Spot,'#F2B64A',0),1.5),soft(dots(cd10Hot,'#E8803C',2.5),.5)
 ]}));

make(panel({id:'cd24',title:'CD24',titleX:2495,titleY:586,box:[2230,540,2760,1100],plot:[2320,635,2705,1019.5],xr:[-65.6,60.7],yr:[-50,43.8],xTitleY:1060.5,yTitleX:2263,
 layers:[...silhouette('#3F72B0',2),
  soft(poly(cd24TealA,'#74BAA8',0),6),soft(poly(cd24TealB,'#5FAAAE',0),6),soft(poly(cd24TealC,'#4F93B0',0),6),soft(poly(cd24TealD,'#72BBA8',0),6),soft(poly(cd24TealE,'#6DB4AA',0),6),soft(poly(cd24TealF,'#6DB4AA',0),6),soft(poly(cd24TealG,'#6AB2AA',0),6),soft(poly(cd24TealH,'#C9E2A4',0),5),
  soft(dots(cd24SpecksDark,'#3F6AAE',4),1),soft(dots(cd24SpecksMid,'#5FAAAE',2.6),.5),soft(dots(cd24SpecksPale,'#C6E4A6',2.2),.5),
  soft(poly(cd24Orange1,'#F0A25A',0),3),soft(poly(cd24Orange2,'#F09C55',0),3),soft(poly(cd24Orange3,'#F3A255',0),3),
  soft(poly(cd24Pale,'#EDE9A0',0),4),soft(poly(cd24Warm,'#F09A50',0),4),soft(poly(cd24Red,'#B8252F',0),3),
  soft(poly(cd24RedSpot,'#C02A2C',0),2),soft(dots(cd24SpecksHot,'#E8703A',2.2),.5)
 ]}));
</script>
</body></html>
